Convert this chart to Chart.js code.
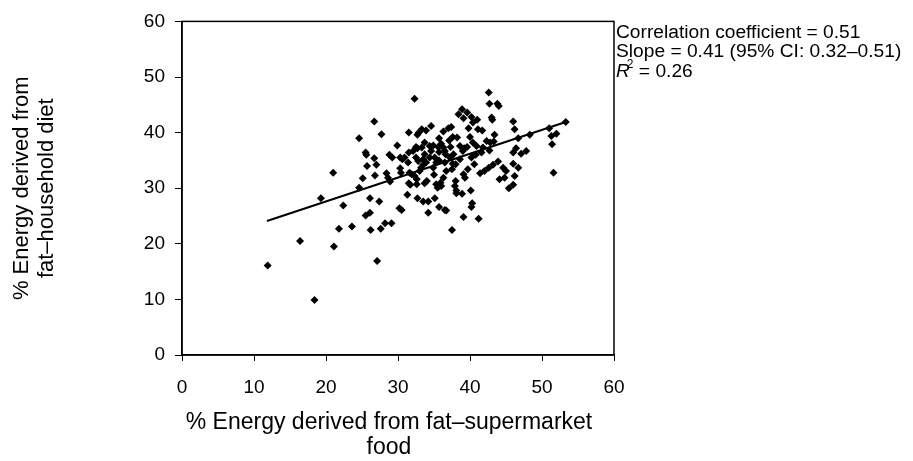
<!DOCTYPE html>
<html><head><meta charset="utf-8">
<script src="https://cdn.jsdelivr.net/npm/chart.js@4.4.0/dist/chart.umd.min.js"></script>
<style>html,body{margin:0;padding:0;background:#fff;}#wrap{width:913px;height:461px;}</style>
</head><body><div id="wrap"><canvas id="c" width="913" height="461"></canvas></div>
<script>
// % energy from fat, supermarket food (x) vs household diet (y)
const supermarketFat = [
11.9,18.4,16.4,21.1,19.3,21.0,22.4,21.8,23.6,24.6,26.7,27.7,27.1,32.3,26.2,27.6,28.2,29.1,25.5,26.1,
26.1,27.4,24.6,25.1,25.7,27.0,25.5,25.6,26.7,26.8,28.4,28.6,28.9,28.8,29.2,29.9,30.3,30.4,30.2,30.5,
31.3,31.5,31.4,31.5,31.7,32.7,33.5,34.2,34.2,35.1,35.7,36.5,36.7,37.5,39.1,41.2,40.2,40.3,40.1,38.9,
38.1,37.9,38.0,39.3,39.1,40.6,41.4,42.0,42.6,43.2,43.9,44.1,44.6,45.0,44.8,45.4,46.0,46.2,46.0,46.7,
46.0,46.4,47.1,47.8,46.7,48.3,46.0,46.2,51.0,51.3,52.0,51.4,51.6,53.3,42.6,42.7,43.8,44.0,43.0,43.1,
41.0,38.4,38.9,39.1,39.6,40.2,40.4,41.1,41.7,39.8,40.0,40.4,40.9,41.8,42.3,42.8,43.4,43.3,42.7,41.6,
40.8,40.2,39.6,39.0,38.6,38.2,37.6,37.1,37.4,37.0,36.3,35.7,36.0,36.3,36.6,37.2,37.7,38.0,37.5,36.7,
36.3,35.9,35.3,35.5,36.0,35.0,34.9,35.3,35.7,35.1,34.6,34.4,33.7,33.9,33.5,33.2,32.8,32.5,32.7,32.5,
32.1,31.5,30.9,30.6,30.3,32.9,33.3,33.9,32.7,34.6,35.6,36.5,33.0,32.3,32.6,33.7,34.0,31.6,31.9,32.6,
38.6,39.7,38.1,39.2,34.9,35.7,33.3,33.7,36.5,37.3,37.6,33.5,34.4
];
const householdFat = [
16.1,9.9,20.5,19.5,28.2,32.8,26.9,22.7,23.1,39.0,42.0,39.7,16.9,46.1,22.5,22.7,23.7,23.7,25.1,25.6,
28.2,27.6,30.1,31.8,34.0,34.2,36.4,36.0,35.4,32.3,32.7,31.9,31.2,36.0,35.5,37.7,33.6,32.8,26.4,26.1,
28.8,40.0,34.6,30.9,30.6,28.2,27.6,27.6,25.6,28.2,26.6,26.1,26.0,22.5,24.8,24.5,26.6,27.3,29.6,29.0,
29.6,30.4,31.3,31.9,32.5,34.3,32.7,33.1,33.7,34.2,34.8,31.6,33.7,33.1,31.9,30.0,30.6,32.2,34.4,33.7,
36.4,37.2,36.2,36.7,39.0,39.6,42.0,40.6,40.8,39.4,39.8,37.9,32.8,41.9,47.2,45.2,45.2,44.8,42.7,42.3,
42.3,43.3,44.2,42.6,43.6,42.8,41.8,40.6,40.4,40.8,39.2,38.2,37.6,37.3,38.5,38.2,39.6,38.4,36.8,36.4,
36.0,35.5,37.4,36.7,37.6,39.1,39.2,38.6,41.0,40.8,40.2,39.0,38.0,37.3,36.1,35.5,36.1,34.3,33.4,33.1,
31.9,31.0,30.7,30.1,30.4,32.4,33.7,34.6,35.0,35.5,36.7,37.6,36.1,34.6,34.2,33.7,34.9,35.5,37.2,37.4,
36.7,36.4,35.5,35.2,35.5,40.0,40.6,40.4,39.6,41.2,37.4,34.6,33.1,32.2,31.6,30.9,31.3,32.8,32.5,30.7,
35.2,33.4,29.1,37.2,37.7,36.5,37.3,38.2,36.7,37.4,34.4,35.2,35.5
];
// fitted regression line, read at its two ends
const fitLineX = [11.8, 53.3];
const fitLineY = [24.1, 41.9];
const xTickValues = [0, 10, 20, 30, 40, 50, 60];
const yTickValues = [0, 10, 20, 30, 40, 50, 60];
const xTitleLines = ['% Energy derived from fat\u2013supermarket', 'food'];
const yTitleLines = ['% Energy derived from', 'fat\u2013household diet'];
const statCorrelation = 'Correlation coefficient = 0.51';
const statSlope = 'Slope = 0.41 (95% CI: 0.32\u20130.51)';
const statR2Value = ' = 0.26';

const FONT = "'Liberation Sans', Arial, Helvetica, sans-serif";

const points = supermarketFat.map((x, i) => ({x, y: householdFat[i]}));
const fitPoints = fitLineX.map((x, i) => ({x, y: fitLineY[i]}));

const framePlugin = {
  id: 'frame',
  afterDatasetsDraw(chart) {
    const {ctx, chartArea: a} = chart;
    ctx.save();
    ctx.strokeStyle = '#000';
    ctx.lineWidth = 1.5;
    ctx.strokeRect(a.left, a.top, a.right - a.left, a.bottom - a.top);
    ctx.restore();
  }
};

const textPlugin = {
  id: 'texts',
  afterDraw(chart) {
    const {ctx, chartArea: a} = chart;
    ctx.save();
    ctx.fillStyle = '#000';
    ctx.textBaseline = 'middle';
    // x-axis title
    ctx.textAlign = 'center';
    ctx.font = '23px ' + FONT;
    const cx = (a.left + a.right) / 2 - 9;
    ctx.fillText(xTitleLines[0], cx, a.bottom + 68);
    ctx.fillText(xTitleLines[1], cx, a.bottom + 93);
    // statistics box
    ctx.textAlign = 'left';
    const x0 = a.right + 2;
    const y0 = a.top + 11;
    const gap = 19.5;
    ctx.font = '19.2px ' + FONT;
    ctx.fillText(statCorrelation, x0, y0);
    ctx.fillText(statSlope, x0, y0 + gap);
    const y2 = y0 + 2 * gap;
    ctx.font = 'italic 19.2px ' + FONT;
    ctx.fillText('R', x0, y2);
    const rw = ctx.measureText('R').width;
    ctx.font = '12px ' + FONT;
    ctx.fillText('2', x0 + rw - 3, y2 - 7);
    const sw = ctx.measureText('2').width;
    ctx.font = '19.2px ' + FONT;
    ctx.fillText(statR2Value, x0 + rw - 3 + sw, y2);
    ctx.restore();
  }
};

new Chart(document.getElementById('c'), {
  type: 'scatter',
  data: {
    datasets: [
      {
        label: 'Households',
        data: points,
        pointStyle: 'rectRot',
        pointRadius: 4,
        pointBackgroundColor: '#000',
        pointBorderColor: '#000',
        pointBorderWidth: 0,
        order: 2
      },
      {
        label: 'Fit',
        type: 'line',
        data: fitPoints,
        borderColor: '#000',
        borderWidth: 2,
        pointRadius: 0,
        fill: false,
        order: 1
      }
    ]
  },
  options: {
    responsive: false,
    animation: false,
    devicePixelRatio: 1,
    layout: {padding: {top: 16, right: 299, left: 0, bottom: 0}},
    plugins: {legend: {display: false}, tooltip: {enabled: false}},
    scales: {
      x: {
        type: 'linear', min: 0, max: 60,
        afterBuildTicks(s) { s.ticks = xTickValues.map(v => ({value: v})); },
        afterFit(s) { s.height = 106; },
        grid: {drawOnChartArea: false, drawTicks: true, tickLength: 6, color: '#000', lineWidth: 1},
        border: {display: true, color: '#000', width: 1.5},
        ticks: {color: '#000', font: {family: FONT, size: 19}, padding: 15, maxRotation: 0},
        title: {display: false}
      },
      y: {
        type: 'linear', min: 0, max: 60,
        afterBuildTicks(s) { s.ticks = yTickValues.map(v => ({value: v})); },
        afterFit(s) { s.width = 182; },
        grid: {drawOnChartArea: false, drawTicks: true, tickLength: 7, color: '#000', lineWidth: 1},
        border: {display: true, color: '#000', width: 1.5},
        ticks: {color: '#000', font: {family: FONT, size: 19}, padding: 10},
        title: {display: true, text: yTitleLines, color: '#000', font: {family: FONT, size: 22, lineHeight: 1.15}, padding: {top: 9, bottom: 0}}
      }
    }
  },
  plugins: [framePlugin, textPlugin]
});
</script>
</body></html>
